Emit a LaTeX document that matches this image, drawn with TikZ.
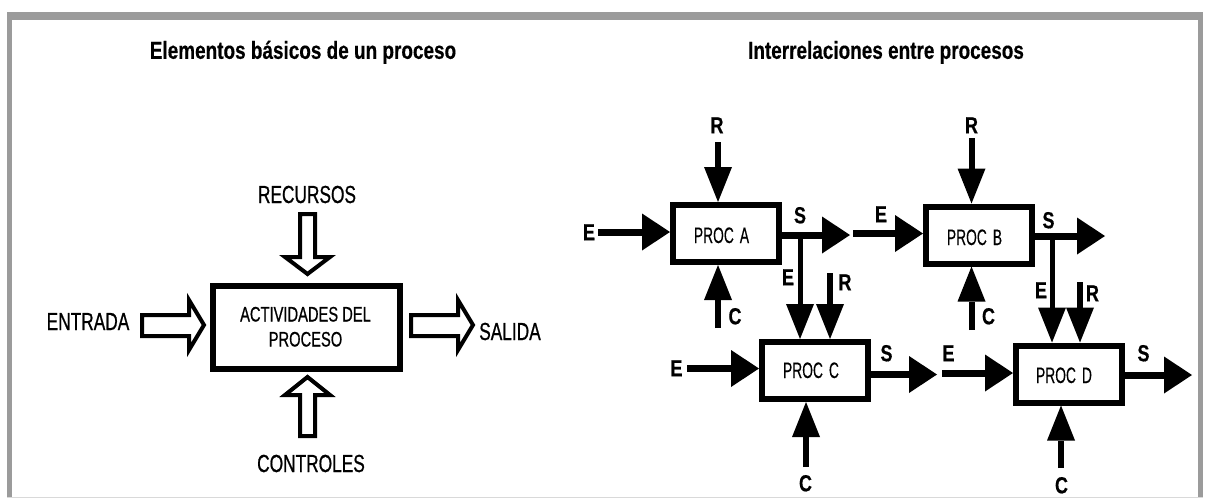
\documentclass[tikz,border=0pt]{standalone}
\usepackage{fontspec}
\usetikzlibrary{arrows.meta}
\newfontfamily\ttlfont[FakeStretch=0.77,FakeBold=0.4]{Liberation Sans}
\newfontfamily\lblfont[FakeStretch=0.70,FakeBold=0.7]{Liberation Sans}
\newfontfamily\procfont[FakeStretch=0.62,FakeBold=0.3]{Liberation Sans}
\definecolor{framegray}{HTML}{9B9B9B}
\begin{document}
\begin{tikzpicture}[x=1pt,y=-1pt,
  title/.style={anchor=base, inner sep=0pt, font=\ttlfont\bfseries\fontsize{24.6}{24.6}\selectfont},
  biglbl/.style={anchor=base, inner sep=0pt, font=\lblfont\fontsize{24.7}{24.7}\selectfont},
  boxtxt/.style={anchor=base, inner sep=0pt, font=\lblfont\fontsize{21}{21}\selectfont},
  letter/.style={anchor=base, inner sep=0pt, font=\ttlfont\bfseries\fontsize{23.3}{23.3}\selectfont},
  proctxt/.style={anchor=base, inner sep=0pt, font=\procfont\fontsize{22.3}{22.3}\selectfont},
  bigbox/.style={draw, line width=6pt, minimum width=187pt, minimum height=83pt, inner sep=0pt},
  pbox/.style={draw, line width=6pt, minimum width=106pt, minimum height=57pt, inner sep=0pt},
  hollow/.style={draw, fill=white, line width=4pt, line join=miter},
  hconn/.style={line width=7pt, -{Triangle[length=28pt,width=37pt,line width=0pt]}},
  vconn/.style={line width=6pt, -{Triangle[length=35pt,width=28pt,line width=0pt]}},
]
\useasboundingbox (0,0) rectangle (1208,498);
% frame
\fill[framegray] (7,12) rectangle (1203,20);
\fill[framegray] (7,12) rectangle (12,497);
\fill[framegray] (1197.5,12) rectangle (1202.5,497);
\draw[black!15, line width=1pt] (7,497) -- (1203,497);

% titles
\node[title] (t1) at (303,58.8) {Elementos básicos de un proceso};
\node[title] (t2) at (886,58.8) {Interrelaciones entre procesos};

% ---- left diagram
\node[bigbox] (act) at (306.5,327.5) {};
\node[boxtxt] (act1) at (305.5,321.5) {ACTIVIDADES DEL};
\node[boxtxt] (act2) at (305.5,346.5) {PROCESO};

\node[biglbl] (rec) at (307,203) {RECURSOS};
\node[biglbl] (con) at (311,472) {CONTROLES};
\node[biglbl] (ent) at (88,330) {ENTRADA};
\node[biglbl] (sal) at (510,340) {SALIDA};

\draw[hollow] (142,315) -- (189,315) -- (189,300) -- (204,325) -- (189,350) -- (189,336) -- (142,336) -- cycle;
\draw[hollow] (411,315) -- (458,315) -- (458,300) -- (473,325) -- (458,350) -- (458,336) -- (411,336) -- cycle;
\draw[hollow] (300,214) -- (315,214) -- (315,257) -- (330,257) -- (307.5,274) -- (285,257) -- (300,257) -- cycle;
\draw[hollow] (307.5,377) -- (330,395) -- (315,395) -- (315,436) -- (300,436) -- (300,395) -- (285,395) -- cycle;

% ---- right diagram
\node[pbox] (A) at (726,233.5) {};
\node[pbox] (B) at (979,235) {};
\node[pbox] (C) at (815,370.5) {};
\node[pbox] (D) at (1069,374) {};
\node[proctxt] (tA) at (721.5,243) {PROC\hspace{6pt}A};
\node[proctxt] (tB) at (974.5,245) {PROC\hspace{6pt}B};
\node[proctxt] (tC) at (811,378) {PROC\hspace{6pt}C};
\node[proctxt] (tD) at (1064,383) {PROC\hspace{6pt}D};

% free ends
\coordinate (rA) at (718,142);
\coordinate (eA) at (598,232);
\coordinate (cA) at (718,328);
\coordinate (sA) at (850,235);
\coordinate (jA) at (800,235);
\coordinate (rC) at (830,273);
\coordinate (eB) at (853,233.5);
\coordinate (rB) at (971.5,138);
\coordinate (cB) at (971.5,330);
\coordinate (sB) at (1105,236);
\coordinate (jB) at (1052,236);
\coordinate (rD) at (1080,282);
\coordinate (eC) at (687,368.5);
\coordinate (sC) at (937,374.5);
\coordinate (cC) at (806,467);
\coordinate (eD) at (942,373);
\coordinate (sD) at (1192,375);
\coordinate (cD) at (1061,468);

% connectors
\draw[vconn] (rA) -- (rA |- A.north);
\draw[hconn] (eA) -- (eA -| A.west);
\draw[vconn] (cA) -- (cA |- A.south);
\draw[hconn] (A.east |- sA) -- (sA);
\draw[vconn, line width=5pt] (jA) -- (jA |- C.north);
\draw[vconn] (rC) -- (rC |- C.north);
\draw[hconn] (eB) -- (eB -| B.west);
\draw[vconn] (rB) -- (rB |- B.north);
\draw[vconn] (cB) -- (cB |- B.south);
\draw[hconn] (B.east |- sB) -- (sB);
\draw[vconn, line width=5pt] (jB) -- (jB |- D.north);
\draw[vconn] (rD) -- (rD |- D.north);
\draw[hconn] (eC) -- (eC -| C.west);
\draw[hconn] (C.east |- sC) -- (sC);
\draw[vconn] (cC) -- (cC |- C.south);
\draw[hconn] (eD) -- (eD -| D.west);
\draw[hconn] (D.east |- sD) -- (sD);
\draw[vconn] (cD) -- (cD |- D.south);

% letter labels
\node[letter] (lRA) at (717,133.3) {R};
\node[letter] (lEA) at (589,240.3) {E};
\node[letter] (lSA) at (800,223.3) {S};
\node[letter] (lEAC) at (788,285.3) {E};
\node[letter] (lRC) at (845,290.3) {R};
\node[letter] (lCA) at (735,324.3) {C};
\node[letter] (lRB) at (971.5,133.3) {R};
\node[letter] (lEB) at (881,222.3) {E};
\node[letter] (lSB) at (1048.5,228.3) {S};
\node[letter] (lEBD) at (1041,298.3) {E};
\node[letter] (lRD) at (1092.5,301.3) {R};
\node[letter] (lCB) at (988.5,324.3) {C};
\node[letter] (lEC) at (676.5,376.3) {E};
\node[letter] (lSC) at (886.5,361.3) {S};
\node[letter] (lCC) at (805.5,491.3) {C};
\node[letter] (lED) at (948.5,361.3) {E};
\node[letter] (lSD) at (1143.5,361.3) {S};
\node[letter] (lCD) at (1061.5,493.3) {C};
\end{tikzpicture}
\end{document}
